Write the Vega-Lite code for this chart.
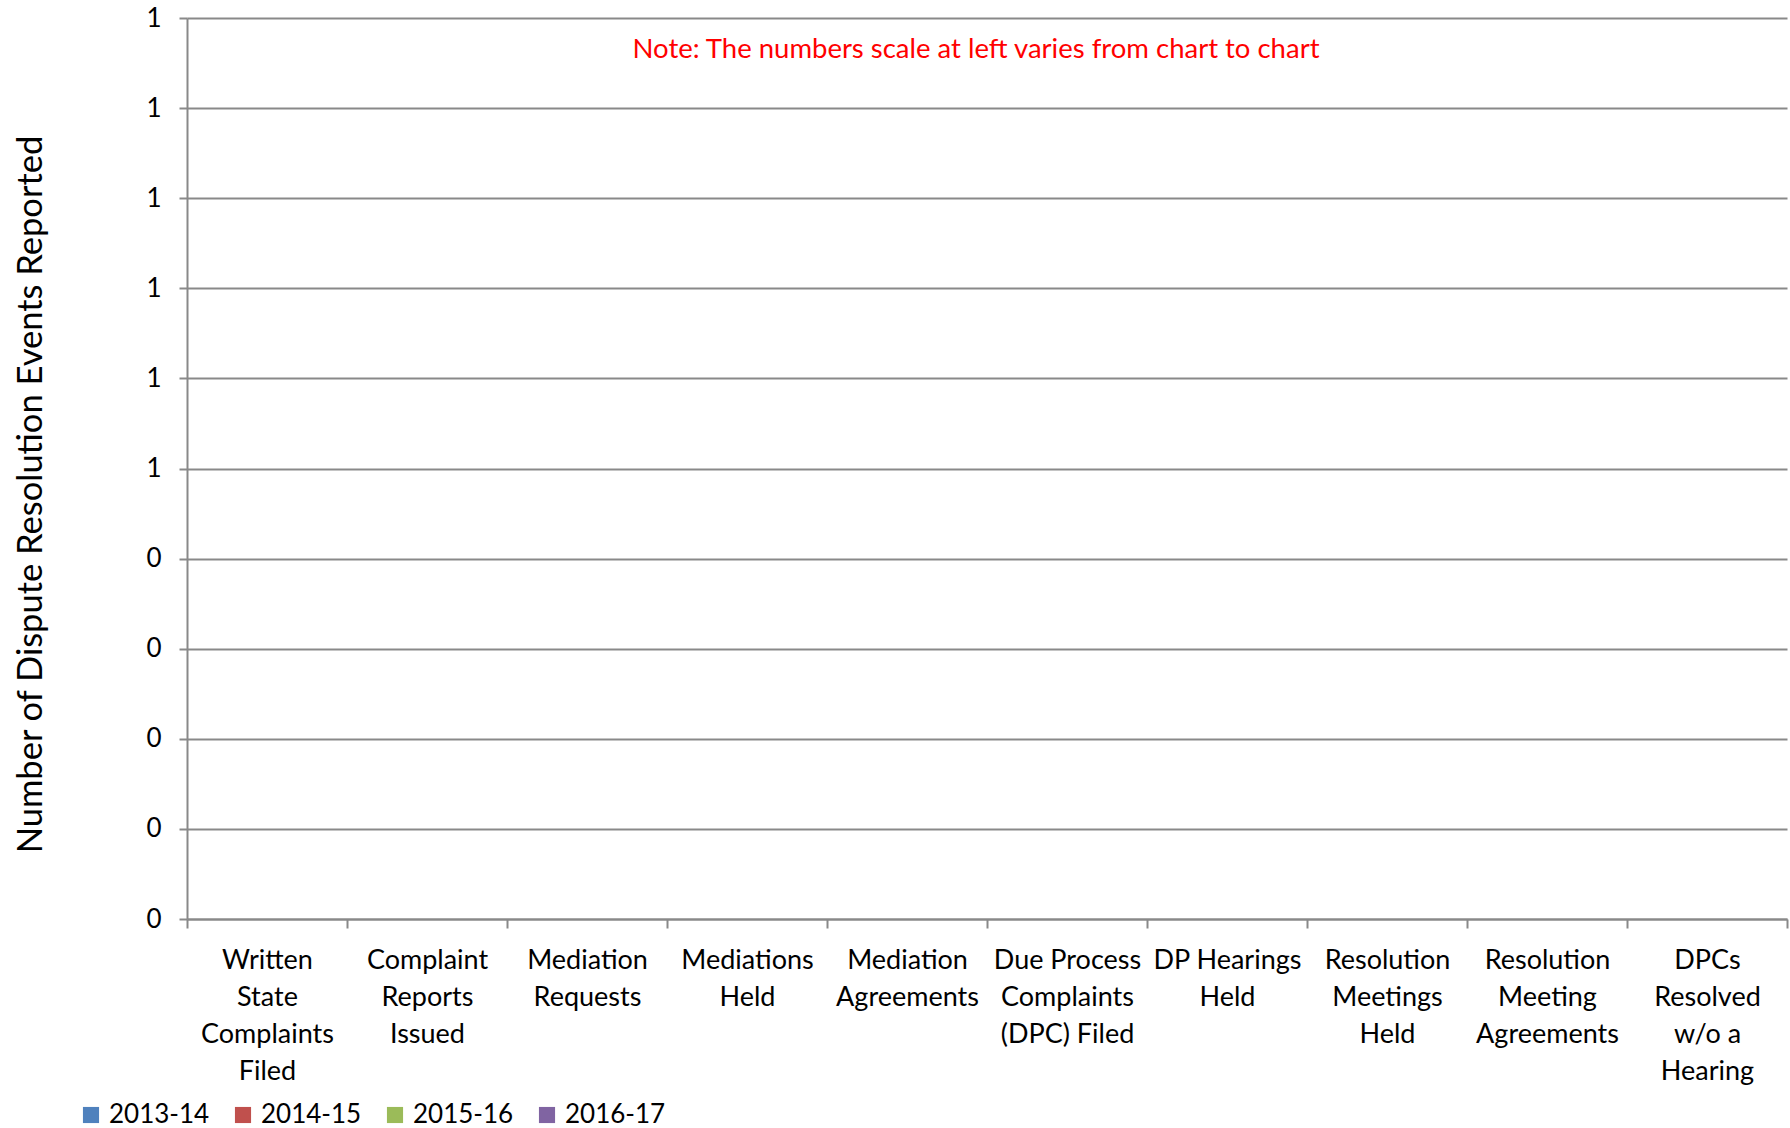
{
  "$schema": "https://vega.github.io/schema/vega-lite/v6.json",
  "autosize": "none",
  "width": 1600,
  "height": 901,
  "padding": {"left": 187, "top": 18, "right": 3, "bottom": 209},
  "background": "white",
  "config": {
    "font": "Lato",
    "view": {"stroke": null}
  },
  "title": {
    "text": "Note:  The numbers scale at left varies from chart to chart",
    "color": "#FF0000",
    "fontSize": 27.5,
    "fontWeight": "normal",
    "font": "Lato",
    "anchor": "middle",
    "frame": "group",
    "orient": "top",
    "baseline": "middle",
    "offset": -30,
    "dy": 42,
    "dx": -11
  },
  "data": {
    "values": [
      {"cat": "Written|State|Complaints|Filed", "year": "2013-14", "v": 0},
      {"cat": "Written|State|Complaints|Filed", "year": "2014-15", "v": 0},
      {"cat": "Written|State|Complaints|Filed", "year": "2015-16", "v": 0},
      {"cat": "Written|State|Complaints|Filed", "year": "2016-17", "v": 0},
      {"cat": "Complaint|Reports|Issued", "year": "2013-14", "v": 0},
      {"cat": "Complaint|Reports|Issued", "year": "2014-15", "v": 0},
      {"cat": "Complaint|Reports|Issued", "year": "2015-16", "v": 0},
      {"cat": "Complaint|Reports|Issued", "year": "2016-17", "v": 0},
      {"cat": "Mediation|Requests", "year": "2013-14", "v": 0},
      {"cat": "Mediation|Requests", "year": "2014-15", "v": 0},
      {"cat": "Mediation|Requests", "year": "2015-16", "v": 0},
      {"cat": "Mediation|Requests", "year": "2016-17", "v": 0},
      {"cat": "Mediations|Held", "year": "2013-14", "v": 0},
      {"cat": "Mediations|Held", "year": "2014-15", "v": 0},
      {"cat": "Mediations|Held", "year": "2015-16", "v": 0},
      {"cat": "Mediations|Held", "year": "2016-17", "v": 0},
      {"cat": "Mediation|Agreements", "year": "2013-14", "v": 0},
      {"cat": "Mediation|Agreements", "year": "2014-15", "v": 0},
      {"cat": "Mediation|Agreements", "year": "2015-16", "v": 0},
      {"cat": "Mediation|Agreements", "year": "2016-17", "v": 0},
      {"cat": "Due Process|Complaints|(DPC) Filed", "year": "2013-14", "v": 0},
      {"cat": "Due Process|Complaints|(DPC) Filed", "year": "2014-15", "v": 0},
      {"cat": "Due Process|Complaints|(DPC) Filed", "year": "2015-16", "v": 0},
      {"cat": "Due Process|Complaints|(DPC) Filed", "year": "2016-17", "v": 0},
      {"cat": "DP Hearings|Held", "year": "2013-14", "v": 0},
      {"cat": "DP Hearings|Held", "year": "2014-15", "v": 0},
      {"cat": "DP Hearings|Held", "year": "2015-16", "v": 0},
      {"cat": "DP Hearings|Held", "year": "2016-17", "v": 0},
      {"cat": "Resolution|Meetings|Held", "year": "2013-14", "v": 0},
      {"cat": "Resolution|Meetings|Held", "year": "2014-15", "v": 0},
      {"cat": "Resolution|Meetings|Held", "year": "2015-16", "v": 0},
      {"cat": "Resolution|Meetings|Held", "year": "2016-17", "v": 0},
      {"cat": "Resolution|Meeting|Agreements", "year": "2013-14", "v": 0},
      {"cat": "Resolution|Meeting|Agreements", "year": "2014-15", "v": 0},
      {"cat": "Resolution|Meeting|Agreements", "year": "2015-16", "v": 0},
      {"cat": "Resolution|Meeting|Agreements", "year": "2016-17", "v": 0},
      {"cat": "DPCs|Resolved|w/o a|Hearing", "year": "2013-14", "v": 0},
      {"cat": "DPCs|Resolved|w/o a|Hearing", "year": "2014-15", "v": 0},
      {"cat": "DPCs|Resolved|w/o a|Hearing", "year": "2015-16", "v": 0},
      {"cat": "DPCs|Resolved|w/o a|Hearing", "year": "2016-17", "v": 0}
    ]
  },
  "mark": {"type": "bar"},
  "encoding": {
    "x": {
      "field": "cat",
      "type": "nominal",
      "sort": null,
      "scale": {"paddingInner": 0, "paddingOuter": 0},
      "axis": {
        "title": null,
        "labelAngle": 0,
        "labelExpr": "split(datum.label, '|')",
        "labelFontSize": 27,
        "labelColor": "#000000",
        "labelLineHeight": 37,
        "labelBaseline": "top",
        "labelPadding": 19,
        "labelLimit": 300,
        "tickBand": "extent",
        "tickSize": 9,
        "tickColor": "#898989",
        "tickWidth": 2,
        "domainColor": "#898989",
        "domainWidth": 2,
        "grid": false
      }
    },
    "xOffset": {"field": "year", "type": "nominal"},
    "y": {
      "field": "v",
      "type": "quantitative",
      "scale": {"domain": [0, 1], "nice": false},
      "axis": {
        "title": "Number of Dispute Resolution Events Reported",
        "titleFontSize": 34.5,
        "titleFontWeight": "normal",
        "titleColor": "#000000",
        "titleX": -156,
        "titleY": 476,
        "titleAlign": "center",
        "titleBaseline": "middle",
        "titleAngle": -90,
        "values": [0, 0.1, 0.2, 0.3, 0.4, 0.5, 0.6, 0.7, 0.8, 0.9, 1],
        "labelExpr": "datum.value >= 0.45 ? '1' : '0'",
        "labelFontSize": 26,
        "labelColor": "#000000",
        "labelPadding": 18,
        "tickSize": 8,
        "tickColor": "#898989",
        "tickWidth": 2,
        "domainColor": "#898989",
        "domainWidth": 2,
        "grid": true,
        "gridColor": "#898989",
        "gridWidth": 2
      }
    },
    "color": {
      "field": "year",
      "type": "nominal",
      "scale": {
        "domain": ["2013-14", "2014-15", "2015-16", "2016-17"],
        "range": ["#4F81BD", "#C0504D", "#9BBB59", "#8064A2"]
      },
      "legend": {
        "title": null,
        "orient": "none",
        "direction": "horizontal",
        "legendX": -109,
        "legendY": 1084,
        "symbolType": "square",
        "symbolSize": 260,
        "symbolStrokeWidth": 0,
        "labelFontSize": 26,
        "labelColor": "#000000",
        "labelOffset": 5,
        "columnPadding": 20
      }
    }
  }
}
